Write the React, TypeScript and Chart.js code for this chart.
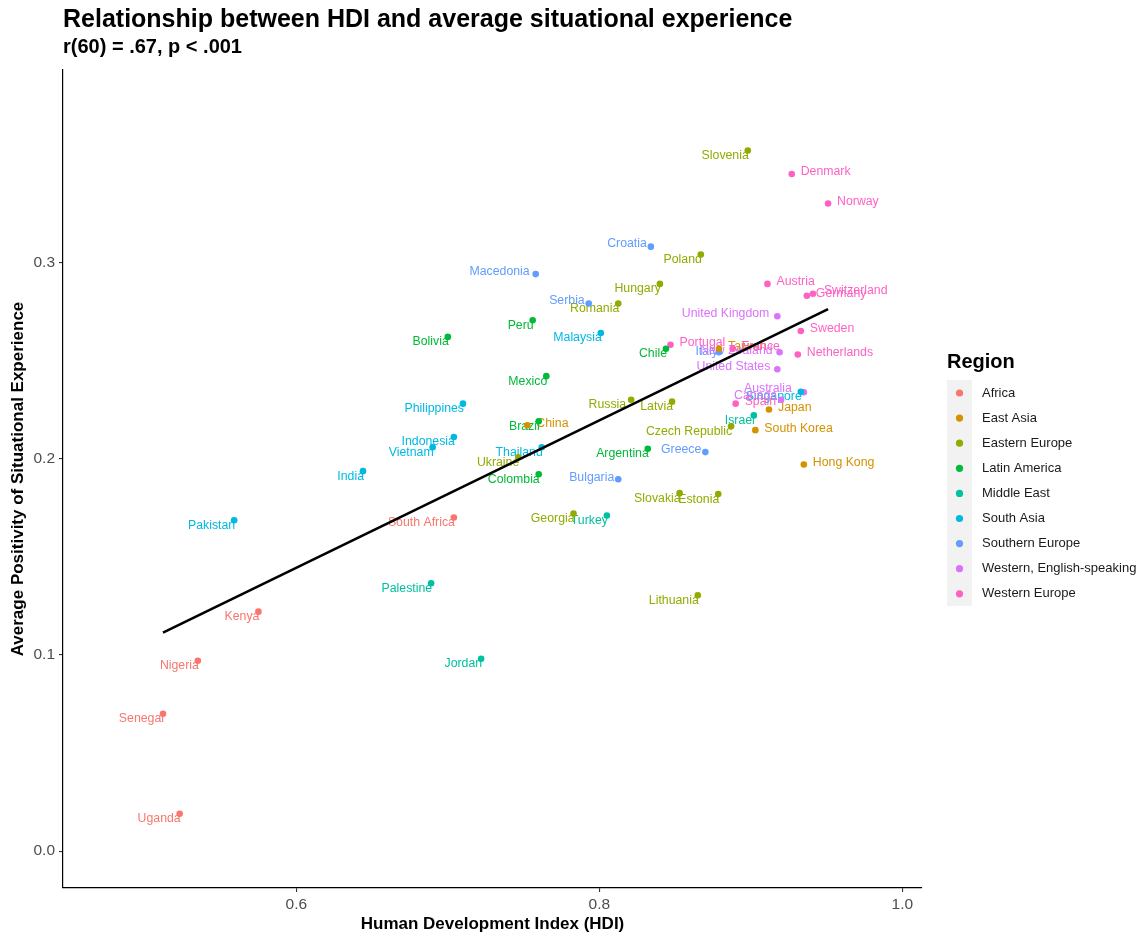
import React, { useEffect, useRef } from "react";
import { Chart, registerables } from "chart.js";

Chart.register(...registerables);

const regionNames = [
  "Africa",
  "East Asia",
  "Eastern Europe",
  "Latin America",
  "Middle East",
  "South Asia",
  "Southern Europe",
  "Western, English-speaking",
  "Western Europe",
];
const regionColors = ["#F8766D", "#D39200", "#93AA00", "#00BA38", "#00C19F", "#00B9E3", "#619CFF", "#DB72FB", "#FF61C3"];

const countries = [
  "Uganda", "Senegal", "Nigeria", "Kenya", "South Africa",
  "China", "Taiwan", "Japan", "South Korea", "Hong Kong",
  "Slovenia", "Poland", "Hungary", "Romania", "Russia", "Latvia", "Ukraine", "Georgia", "Czech Republic", "Slovakia", "Estonia", "Lithuania",
  "Bolivia", "Peru", "Mexico", "Brazil", "Colombia", "Argentina", "Chile",
  "Palestine", "Jordan", "Turkey", "Israel",
  "Pakistan", "India", "Vietnam", "Indonesia", "Philippines", "Thailand", "Malaysia", "Singapore",
  "Macedonia", "Serbia", "Croatia", "Bulgaria", "Greece", "Italy",
  "United Kingdom", "New Zealand", "United States", "Canada", "Australia",
  "Denmark", "Norway", "Austria", "Germany", "Switzerland", "Sweden", "Netherlands", "Portugal", "France", "Spain",
];
const countryRegion = [
  0, 0, 0, 0, 0,
  1, 1, 1, 1, 1,
  2, 2, 2, 2, 2, 2, 2, 2, 2, 2, 2, 2,
  3, 3, 3, 3, 3, 3, 3,
  4, 4, 4, 4,
  5, 5, 5, 5, 5, 5, 5, 5,
  6, 6, 6, 6, 6, 6,
  7, 7, 7, 7, 7,
  8, 8, 8, 8, 8, 8, 8, 8, 8, 8,
];
const hdi = [
  0.523, 0.512, 0.535, 0.575, 0.704,
  0.7525, 0.879, 0.912, 0.903, 0.935,
  0.898, 0.867, 0.840, 0.8125, 0.821, 0.848, 0.7465, 0.783, 0.887, 0.853, 0.8785, 0.865,
  0.700, 0.756, 0.765, 0.760, 0.760, 0.832, 0.844,
  0.689, 0.722, 0.805, 0.902,
  0.559, 0.644, 0.690, 0.704, 0.710, 0.762, 0.801, 0.933,
  0.758, 0.793, 0.834, 0.8125, 0.870, 0.879,
  0.9175, 0.919, 0.9175, 0.920, 0.935,
  0.927, 0.951, 0.911, 0.937, 0.941, 0.933, 0.931, 0.847, 0.888, 0.890,
];
const positivity = [
  0.019, 0.070, 0.097, 0.122, 0.170,
  0.217, 0.256, 0.225, 0.2145, 0.197,
  0.357, 0.304, 0.289, 0.279, 0.230, 0.229, 0.2007, 0.172, 0.2165, 0.1824, 0.1819, 0.1304,
  0.262, 0.2705, 0.242, 0.219, 0.192, 0.205, 0.256,
  0.1365, 0.098, 0.171, 0.222,
  0.1686, 0.1936, 0.2058, 0.211, 0.228, 0.2058, 0.264, 0.234,
  0.294, 0.279, 0.308, 0.1895, 0.2033, 0.2542,
  0.2725, 0.2542, 0.2455, 0.230, 0.2338,
  0.345, 0.330, 0.289, 0.283, 0.284, 0.265, 0.253, 0.258, 0.256, 0.228,
];

const xTicks = [0.6, 0.8, 1.0];
const yTicks = [0.0, 0.1, 0.2, 0.3];

const titleText = "Relationship between HDI and average situational experience";
const subtitleText = "r(60) = .67, p < .001";
const xTitle = "Human Development Index (HDI)";
const yTitle = "Average Positivity of Situational Experience";
const legendTitle = "Region";

const FONT = '"Liberation Sans", Arial, Helvetica, sans-serif';

// labels placed to the right of their point
const rightLabels = new Set([
  "Denmark", "Norway", "Austria", "Germany", "Switzerland", "Sweden", "Netherlands",
  "Japan", "South Korea", "Hong Kong", "China", "Taiwan", "France", "Portugal", "Spain",
]);
// small label shifts (pixels)
const labelShift: Record<string, [number, number]> = {
  Macedonia: [-7, -8],
  Croatia: [-5, -8],
  Serbia: [-5, -8],
  Australia: [-13, -9],
  Canada: [-5, -9],
  "United Kingdom": [-9, -8],
  "United States": [-8, -8],
  "New Zealand": [-8, -7],
  Italy: [-2, -6],
  Bulgaria: [-5, -7],
  Greece: [-5, -8],
  Russia: [-6, 0],
  Switzerland: [2, -1],
};

function fitLine() {
  const n = hdi.length;
  const mx = hdi.reduce((a, b) => a + b, 0) / n;
  const my = positivity.reduce((a, b) => a + b, 0) / n;
  let sxy = 0;
  let sxx = 0;
  for (let i = 0; i < n; i++) {
    sxy += (hdi[i] - mx) * (positivity[i] - my);
    sxx += (hdi[i] - mx) * (hdi[i] - mx);
  }
  const b = sxy / sxx;
  const a = my - b * mx;
  const x0 = Math.min(...hdi);
  const x1 = Math.max(...hdi);
  return [
    { x: x0, y: a + b * x0 },
    { x: x1, y: a + b * x1 },
  ];
}

export default function App() {
  const ref = useRef<HTMLCanvasElement | null>(null);

  useEffect(() => {
    const canvas = ref.current;
    if (!canvas) return;

    const scatterSets = regionNames.map((name, r) => ({
      type: "scatter" as const,
      label: name,
      data: countries
        .map((c, i) => ({ x: hdi[i], y: positivity[i], name: c, r: countryRegion[i] }))
        .filter((p) => p.r === r),
      backgroundColor: regionColors[r],
      borderWidth: 0,
      pointRadius: 3.3,
      order: 1,
    }));

    const lineSet = {
      type: "line" as const,
      label: "fit",
      data: fitLine(),
      borderColor: "#000000",
      borderWidth: 2.6,
      pointRadius: 0,
      fill: false,
      order: 0,
    };

    const labelPlugin = {
      id: "pointLabels",
      beforeDatasetsDraw(chart: any) {
        const ctx = chart.ctx;
        const xs = chart.scales.x;
        const ys = chart.scales.y;
        ctx.save();
        ctx.font = `12.3px ${FONT}`;
        for (let i = 0; i < countries.length; i++) {
          const px = xs.getPixelForValue(hdi[i]);
          const py = ys.getPixelForValue(positivity[i]);
          ctx.fillStyle = regionColors[countryRegion[i]];
          ctx.textBaseline = "middle";
          const name = countries[i];
          const sh = labelShift[name] || [0, 0];
          if (rightLabels.has(name)) {
            ctx.textAlign = "left";
            ctx.fillText(name, px + 9 + sh[0], py - 2 + sh[1]);
          } else {
            ctx.textAlign = "right";
            ctx.fillText(name, px + 1 + sh[0], py + 5 + sh[1]);
          }
        }
        ctx.restore();
      },
    };

    const decoPlugin = {
      id: "deco",
      afterDraw(chart: any) {
        const ctx = chart.ctx;
        const ca = chart.chartArea;
        ctx.save();
        ctx.fillStyle = "#000000";
        ctx.textAlign = "left";
        ctx.textBaseline = "middle";
        ctx.font = `bold 25px ${FONT}`;
        ctx.fillText(titleText, 63, 20);
        ctx.font = `bold 20px ${FONT}`;
        ctx.fillText(subtitleText, 63, 47);

        ctx.font = `bold 17px ${FONT}`;
        ctx.textAlign = "center";
        ctx.fillText(xTitle, (ca.left + ca.right) / 2, 924);
        ctx.save();
        ctx.translate(18, (ca.top + ca.bottom) / 2);
        ctx.rotate(-Math.PI / 2);
        ctx.fillText(yTitle, 0, 0);
        ctx.restore();

        // legend
        const lx = 947;
        ctx.textAlign = "left";
        ctx.font = `bold 20px ${FONT}`;
        ctx.fillText(legendTitle, lx, 362);
        ctx.fillStyle = "#F2F2F2";
        ctx.fillRect(lx, 380, 25, 226);
        ctx.font = `13px ${FONT}`;
        regionNames.forEach((name, i) => {
          const cy = 393 + i * 25.1;
          ctx.fillStyle = regionColors[i];
          ctx.beginPath();
          ctx.arc(lx + 12.5, cy, 3.6, 0, Math.PI * 2);
          ctx.fill();
          ctx.fillStyle = "#1A1A1A";
          ctx.fillText(name, 982, cy);
        });
        ctx.restore();
      },
    };

    const chart = new Chart(canvas, {
      type: "scatter",
      data: { datasets: [lineSet as any, ...scatterSets] },
      options: {
        animation: false,
        responsive: false,
        devicePixelRatio: 1,
        layout: { padding: { top: 70, right: 216, left: 0, bottom: 0 } },
        plugins: {
          legend: { display: false },
          tooltip: { enabled: false },
          title: { display: false },
        },
        scales: {
          x: {
            type: "linear",
            min: 0.446,
            max: 1.013,
            afterFit: (s: any) => {
              s.height = 47;
            },
            afterBuildTicks: (s: any) => {
              s.ticks = xTicks.map((v) => ({ value: v }));
            },
            border: { display: true, color: "#000000", width: 1.2 },
            grid: { display: true, drawOnChartArea: false, drawTicks: true, tickLength: 4, color: "#333333", lineWidth: 1.1 },
            ticks: {
              color: "#4D4D4D",
              font: { family: FONT, size: 15.5 },
              padding: 3,
              callback: (v: any) => Number(v).toFixed(1),
            },
          },
          y: {
            type: "linear",
            min: -0.0188,
            max: 0.398,
            afterFit: (s: any) => {
              s.width = 63;
            },
            afterBuildTicks: (s: any) => {
              s.ticks = yTicks.map((v) => ({ value: v }));
            },
            border: { display: true, color: "#000000", width: 1.2 },
            grid: { display: true, drawOnChartArea: false, drawTicks: true, tickLength: 4, color: "#333333", lineWidth: 1.1 },
            ticks: {
              color: "#4D4D4D",
              font: { family: FONT, size: 15.5 },
              padding: 4,
              callback: (v: any) => Number(v).toFixed(1),
            },
          },
        },
      },
      plugins: [labelPlugin, decoPlugin],
    });

    return () => {
      chart.destroy();
    };
  }, []);

  return (
    <div style={{ position: "absolute", left: 0, top: 0, width: 1138, height: 935, background: "#ffffff" }}>
      <canvas ref={ref} width={1138} height={935} style={{ display: "block", width: 1138, height: 935 }} />
    </div>
  );
}
